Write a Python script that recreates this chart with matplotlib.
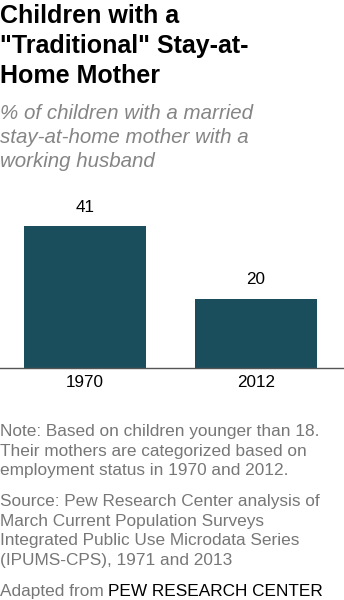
import matplotlib
matplotlib.use("Agg")
import matplotlib.pyplot as plt

years = ["1970", "2012"]
shares = [41, 20]

title_lines = ["Children with a", "\"Traditional\" Stay-at-", "Home Mother"]
subtitle_lines = ["% of children with a married", "stay-at-home mother with a", "working husband"]
note_lines = [
    "Note: Based on children younger than 18.",
    "Their mothers are categorized based on",
    "employment status in 1970 and 2012.",
]
source_lines = [
    "Source: Pew Research Center analysis of",
    "March Current Population Surveys",
    "Integrated Public Use Microdata Series",
    "(IPUMS-CPS), 1971 and 2013",
]

W, H = 344, 600
BAR = "#1a4e5d"
GREY = "#777777"
plt.rcParams["font.family"] = ["Liberation Sans", "DejaVu Sans"]

fig = plt.figure(figsize=(W / 100, H / 100), dpi=100)


def ftext(x, y, s, **kw):
    # x, y given in pixels from the top-left corner
    return fig.text(x / W, 1 - y / H, s, va="baseline", ha="left", **kw)


for i, line in enumerate(title_lines):
    ftext(0, 23 + 30 * i, line, fontsize=18, fontweight="bold", color="black")
for i, line in enumerate(subtitle_lines):
    ftext(0, 119 + 24 * i, line, fontsize=14.8, style="italic", color="#858585")
for i, line in enumerate(note_lines):
    ftext(0, 436 + 19.7 * i, line, fontsize=12.4, color=GREY)
for i, line in enumerate(source_lines):
    ftext(0, 506 + 19.7 * i, line, fontsize=12.4, color=GREY)
t = ftext(0, 596, "Adapted from ", fontsize=12.4, color=GREY)
fig.canvas.draw()
bb = t.get_window_extent()
ftext(bb.x1, 596, "PEW RESEARCH CENTER", fontsize=12.4, color="black")

# plot area: baseline at y=368 px, 45 units tall
px_per_unit = 142 / 41
base = 368
ax = fig.add_axes([0, 1 - base / H, 1, 45 * px_per_unit / H])
x = range(len(years))
bars = ax.bar(x, shares, width=0.713, color=BAR)
for b, v in zip(bars, shares):
    ax.text(b.get_x() + b.get_width() / 2, v + 3.3, str(v), ha="center", va="bottom",
            fontsize=12.3, color="black")
ax.set_xlim(-0.497, 1.515)
ax.set_ylim(0, 45)
for s in ["top", "left", "right"]:
    ax.spines[s].set_visible(False)
ax.spines["bottom"].set_color("#555555")
ax.spines["bottom"].set_linewidth(1)
ax.set_yticks([])
ax.set_xticks(list(x))
ax.set_xticklabels(years, fontsize=12.3)
ax.tick_params(axis="x", length=0, pad=5)

fig.savefig("out.png", dpi=100)
